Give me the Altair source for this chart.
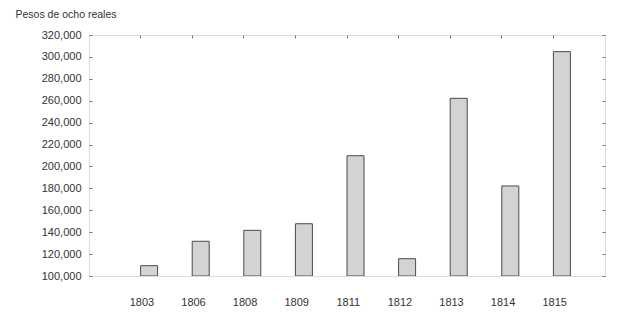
import altair as alt
import pandas as pd

slots = [" ", "1803", "1806", "1808", "1809", "1811", "1812", "1813", "1814", "1815"]
years = ["1803", "1806", "1808", "1809", "1811", "1812", "1813", "1814", "1815"]
values = [109400, 131700, 141700, 147700, 209800, 115800, 262200, 182200, 304800]
y_ticks = [100000, 120000, 140000, 160000, 180000, 200000, 220000, 240000, 260000, 280000, 300000, 320000]
base_value = 100000

df = pd.DataFrame({"year": years, "value": values})

FONT = "Liberation Sans"

xscale = alt.Scale(domain=slots, paddingInner=0, paddingOuter=0)
yscale = alt.Scale(domain=[100000, 320000], nice=False, zero=False)

bars = alt.Chart(df).mark_bar(
    size=17, xOffset=-17.3, color="#d3d3d3", stroke="#4a4a4a", strokeWidth=1, clip=True
).encode(
    x=alt.X("year:N", scale=xscale, sort=slots,
            axis=alt.Axis(title=None, ticks=False, domain=False,
                          labelAngle=0, labelPadding=20, labelOffset=-24.5, labelFontSize=11,
                          labelColor="#333", labelFont=FONT, values=years)),
    y=alt.Y("value:Q", scale=yscale,
            axis=alt.Axis(title="Pesos de ocho reales", titleAngle=0, titleAlign="left",
                          titleBaseline="middle", titleX=-77, titleY=-21,
                          titleFont=FONT, titleFontSize=10.5, titleFontWeight="normal",
                          titleColor="#333",
                          values=y_ticks, format=",.0f",
                          offset=-3, tickSize=3, tickColor="#777", domain=False, grid=False,
                          labelPadding=8, labelFontSize=11, labelColor="#333", labelFont=FONT)),
    y2=alt.Y2(datum=base_value),
)

mirror = alt.Chart(df).mark_bar(size=17, xOffset=-17.3, opacity=0, clip=True).encode(
    x=alt.X("year:N", scale=xscale, sort=slots,
            axis=alt.Axis(orient="top", title=None, bandPosition=0, labels=False,
                          domain=False, offset=-3, tickSize=3, tickColor="#777",
                          values=years)),
    y=alt.Y("value:Q", scale=yscale,
            axis=alt.Axis(orient="right", title=None, labels=False, domain=False, grid=False,
                          values=y_ticks, offset=-3, tickSize=3, tickColor="#777")),
)

chart = alt.layer(bars, mirror).resolve_axis(x="independent", y="independent").properties(
    width=516, height=241,
    autosize=alt.AutoSizeParams(type="none"),
    padding={"left": 81, "top": 27, "right": 4, "bottom": 40},
).configure_view(stroke="#555", strokeWidth=1).configure(background="white")

chart.save("out.html", embed_options={"renderer": "svg", "actions": False})
